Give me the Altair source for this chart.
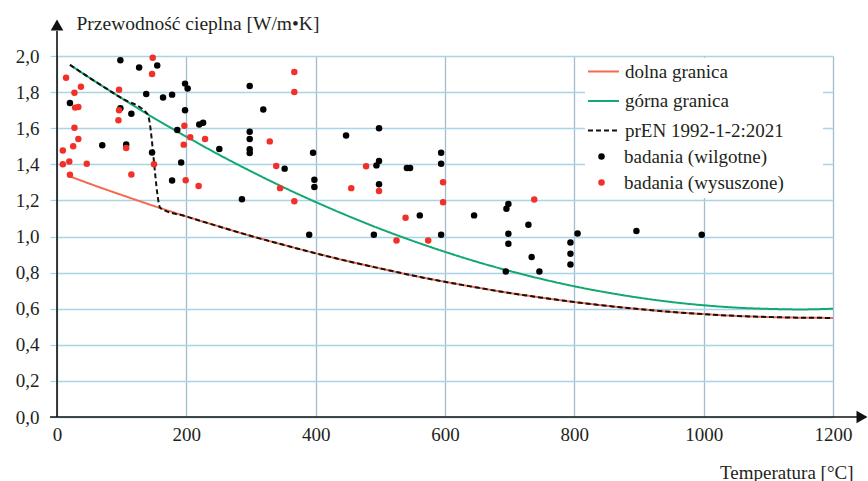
import altair as alt
import pandas as pd

FONT = "Liberation Serif"
FS = 19

# Curves
curve_t = [20, 50, 100, 150, 200, 250, 300, 350, 400, 450, 500, 550, 600, 650,
           700, 750, 800, 850, 900, 950, 1000, 1050, 1100, 1150, 1200]
lower_v = [1.333, 1.293, 1.230, 1.169, 1.111, 1.056, 1.003, 0.954, 0.907, 0.863,
           0.823, 0.784, 0.749, 0.717, 0.687, 0.661, 0.637, 0.616, 0.598, 0.582,
           0.570, 0.560, 0.554, 0.550, 0.549]
upper_v = [1.951, 1.880, 1.766, 1.656, 1.553, 1.454, 1.361, 1.273, 1.191, 1.114,
           1.042, 0.976, 0.915, 0.859, 0.809, 0.764, 0.724, 0.690, 0.661, 0.637,
           0.619, 0.606, 0.599, 0.596, 0.600]
pren_t = [20, 50, 100, 140, 160, 200, 250, 300, 350, 400, 450, 500, 550, 600, 650,
          700, 750, 800, 850, 900, 950, 1000, 1050, 1100, 1150, 1200]
pren_v = [1.951, 1.880, 1.766, 1.678, 1.157, 1.111, 1.056, 1.003, 0.954, 0.907,
          0.863, 0.823, 0.784, 0.749, 0.717, 0.687, 0.661, 0.637, 0.616, 0.598,
          0.582, 0.570, 0.560, 0.554, 0.550, 0.549]

# Measurements (wet) - black
wet_t = [20, 98, 127, 155, 138, 164, 178, 198, 202, 198, 98, 115, 70, 107, 147,
         186, 192, 178, 220, 226, 251, 298, 298, 298, 298, 298, 319, 352, 286,
         396, 398, 398, 390, 447, 498, 494, 498, 498, 490, 541, 546, 561, 594,
         594, 594, 645, 695, 698, 729, 698, 698, 734, 694, 746, 794, 794, 794,
         805, 896, 997]
wet_v = [1.74, 1.976, 1.936, 1.948, 1.79, 1.77, 1.786, 1.847, 1.82, 1.70, 1.71,
         1.68, 1.505, 1.51, 1.465, 1.59, 1.41, 1.31, 1.62, 1.63, 1.485, 1.834,
         1.58, 1.54, 1.483, 1.462, 1.703, 1.376, 1.206, 1.464, 1.315, 1.274, 1.01,
         1.56, 1.60, 1.394, 1.418, 1.289, 1.01, 1.379, 1.379, 1.117, 1.464, 1.403,
         1.01, 1.117, 1.154, 1.18, 1.065, 1.015, 0.96, 0.886, 0.806, 0.806, 0.967,
         0.905, 0.845, 1.016, 1.03, 1.01]

# Measurements (dried) - red
dry_t = [14, 9, 9, 19, 20, 25, 33, 27, 28, 33, 27, 37, 46, 96, 96, 95, 107, 115,
         148, 147, 150, 197, 196, 206, 199, 219, 229, 329, 339, 345, 367, 367, 367,
         478, 455, 498, 539, 525, 574, 597, 597, 738]
dry_v = [1.88, 1.477, 1.40, 1.416, 1.342, 1.50, 1.54, 1.603, 1.714, 1.717, 1.797,
         1.83, 1.403, 1.813, 1.70, 1.644, 1.49, 1.344, 1.99, 1.90, 1.40, 1.614,
         1.509, 1.55, 1.311, 1.28, 1.54, 1.527, 1.39, 1.268, 1.911, 1.80, 1.195,
         1.389, 1.268, 1.252, 1.104, 0.978, 0.978, 1.30, 1.19, 1.205]

y_ticks = [0, 0.2, 0.4, 0.6, 0.8, 1.0, 1.2, 1.4, 1.6, 1.8, 2.0]
x_ticks = [0, 200, 400, 600, 800, 1000, 1200]

line_names = ["dolna granica", "górna granica", "prEN 1992-1-2:2021"]
line_colors = ["#f26b4f", "#12a870", "#111111"]
point_names = ["badania (wilgotne)", "badania (wysuszone)"]
point_colors = ["#000000", "#f2302a"]

lines_df = pd.concat([
    pd.DataFrame({"t": curve_t, "v": lower_v, "s": line_names[0]}),
    pd.DataFrame({"t": curve_t, "v": upper_v, "s": line_names[1]}),
    pd.DataFrame({"t": pren_t, "v": pren_v, "s": line_names[2]}),
], ignore_index=True)
lines_df["o"] = range(len(lines_df))

pts_df = pd.concat([
    pd.DataFrame({"t": wet_t, "v": wet_v, "p": point_names[0]}),
    pd.DataFrame({"t": dry_t, "v": dry_v, "p": point_names[1]}),
], ignore_index=True)

W, H = 776, 361

xs = alt.Scale(domain=[0, 1200], nice=False, zero=False)
ys = alt.Scale(domain=[0, 2.0], nice=False)

x_axis = alt.Axis(values=x_ticks, tickCount=len(x_ticks), grid=True, format="d",
                  gridColor="#a3bccb", gridWidth=1.3, ticks=False, domain=False,
                  labelFont=FONT, labelFontSize=FS, labelColor="#231f20",
                  labelPadding=8, labelOverlap=False, labelFlush=False,
                  title="Temperatura [°C]", titleFont=FONT,
                  titleFontSize=FS, titleFontWeight="normal", titleColor="#231f20",
                  titleAngle=0, titleX=796, titleY=61, titleAlign="right",
                  titleBaseline="alphabetic")
y_axis = alt.Axis(values=y_ticks, tickCount=len(y_ticks),
                  grid=True, gridColor="#a9d3e6", gridWidth=1.3, tickColor="#a9d3e6",
                  tickSize=7, tickWidth=1.3, domain=False, labelOverlap=False,
                  labelExpr="replace(format(datum.value, '.1f'), '.', ',')",
                  labelFont=FONT, labelFontSize=FS, labelColor="#231f20",
                  labelPadding=11, title="Przewodność cieplna [W/m•K]", titleFont=FONT,
                  titleFontSize=19.5, titleFontWeight="normal", titleColor="#231f20",
                  titleAngle=0, titleX=19, titleY=-27, titleAlign="left",
                  titleBaseline="alphabetic")

dash_expr = "datum.value == 'prEN 1992-1-2:2021' ? [5, 3] : [1, 0]"
line_legend = alt.Legend(title=None, orient="none", legendX=522, legendY=-9,
                         symbolType="stroke", symbolSize=961,
                         symbolStrokeWidth=2, labelFont=FONT,
                         labelFontSize=FS, labelColor="#231f20",
                         labelOffset=5, rowPadding=2.5, padding=8,
                         labelLimit=300, symbolDash={"expr": dash_expr})

# white legend background box
bg = alt.Chart(pd.DataFrame({"a": [0]})).mark_rect(color="white").encode(
    x=alt.value(528), x2=alt.value(766), y=alt.value(2), y2=alt.value(142))

lines = alt.Chart(lines_df).mark_line(strokeWidth=2, interpolate="monotone").encode(
    x=alt.X("t:Q", scale=xs, axis=x_axis),
    y=alt.Y("v:Q", scale=ys, axis=y_axis),
    color=alt.Color("s:N", scale=alt.Scale(domain=line_names, range=line_colors),
                    legend=line_legend),
    strokeDash=alt.StrokeDash("s:N", scale=alt.Scale(domain=line_names,
                                                     range=[[1, 0], [1, 0], [5, 3]]),
                              legend=None),
    order="o:Q",
)

points = alt.Chart(pts_df).mark_circle(size=42, opacity=1).encode(
    x=alt.X("t:Q", scale=xs, axis=x_axis),
    y=alt.Y("v:Q", scale=ys, axis=y_axis),
    color=alt.Color("p:N", scale=alt.Scale(domain=point_names, range=point_colors),
                    legend=alt.Legend(title=None, orient="none", legendX=527, legendY=83,
                                      symbolType="circle", symbolSize=42,
                                      labelFont=FONT, labelFontSize=FS,
                                      labelColor="#231f20", labelOffset=13,
                                      rowPadding=6, padding=8,
                                      labelLimit=300)),
)

one = pd.DataFrame({"a": [0]})
yline = alt.Chart(one).mark_rule(color="#111111", strokeWidth=1.6).encode(
    x=alt.value(0), y=alt.value(-25), y2=alt.value(H))
xline = alt.Chart(one).mark_rule(color="#111111", strokeWidth=1.6).encode(
    x=alt.value(-7), x2=alt.value(800), y=alt.value(H))
yarrow = alt.Chart(one).mark_point(shape="triangle-up", filled=True, size=160,
                                   color="#111111", opacity=1).encode(
    x=alt.value(0), y=alt.value(-31))
xarrow = alt.Chart(one).mark_point(shape="triangle-right", filled=True, size=160,
                                   color="#111111", opacity=1).encode(
    x=alt.value(805), y=alt.value(H))

chart = alt.layer(bg, lines, points, yline, xline, yarrow, xarrow).resolve_scale(
    color="independent"
).properties(
    width=W, height=H,
    padding={"left": 57, "top": 56, "right": 35, "bottom": 64},
    autosize=alt.AutoSizeParams(type="none"),
    background="white",
).configure_view(stroke=None).configure_axis(labelFont=FONT, titleFont=FONT)

chart.save("out.html", embed_options={"renderer": "svg", "actions": False})
